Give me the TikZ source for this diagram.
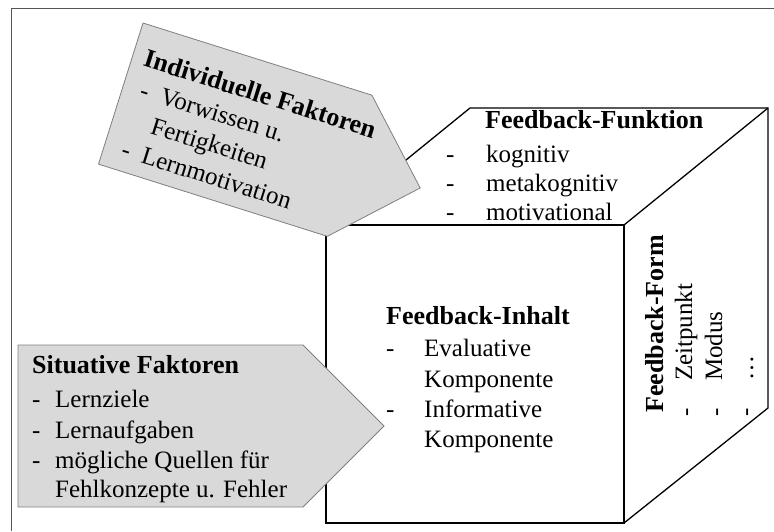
\documentclass[tikz,border=0pt]{standalone}
\usepackage{fontspec}
\setmainfont{Liberation Serif}
\definecolor{boxfill}{HTML}{D9D9D9}
\definecolor{boxline}{HTML}{7F7F7F}
\definecolor{frameline}{HTML}{555555}
\begin{document}
\begin{tikzpicture}[x=1pt,y=-1pt,
  cubeline/.style={draw=black,line width=1.3pt,line join=miter},
  factor/.style={fill=boxfill,draw=boxline,line width=0.8pt,line join=miter},
  txt/.style={inner sep=0pt,anchor=base west,font=\fontsize{25}{30}\selectfont},
  hd/.style={txt,font=\fontsize{26}{30}\selectfont\bfseries}]
\useasboundingbox (0,0) rectangle (774,531);
% outer frame (top and left edges)
\draw[frameline,line width=1pt] (11,531) -- (11,8) -- (774,8);

% cube corners
\coordinate (fa) at (326,225);
\coordinate (fb) at (624,225);
\coordinate (fc) at (624,523);
\coordinate (ba) at (470,108);
\coordinate (bb) at (768,108);
\coordinate (bc) at (768,408);
\draw[cubeline] (fa) rectangle (fc);
\draw[cubeline] (fa) -- (ba) -- (bb) -- (bc) -- (fc);
\draw[cubeline] (fb) -- (bb);

% top face: Feedback-Funktion
\node[hd] (funk) at (485,128) {Feedback-Funktion};
\node[txt] (funkd1) at (446,162) {-};
\node[txt] (funk1) at (486,162) {kognitiv};
\node[txt] (funkd2) at (446,191) {-};
\node[txt] (funk2) at (486,191) {metakognitiv};
\node[txt] (funkd3) at (446,220) {-};
\node[txt] (funk3) at (486,220) {motivational};

% front face: Feedback-Inhalt
\node[hd] (inh) at (386,324) {Feedback-Inhalt};
\node[txt] (inhd1) at (386,356) {-};
\node[txt] (inh1) at (424,356) {Evaluative};
\node[txt] (inh1b) at (424,387) {Komponente};
\node[txt] (inhd2) at (386,417) {-};
\node[txt] (inh2) at (424,417) {Informative};
\node[txt] (inh2b) at (424,447) {Komponente};

% side face: Feedback-Form (reads upwards)
\node[hd,rotate=90] (form) at (663,413) {Feedback-Form};
\node[txt,rotate=90] (formd1) at (693,417) {-};
\node[txt,rotate=90] (form1) at (692,381) {Zeitpunkt};
\node[txt,rotate=90] (formd2) at (723,417) {-};
\node[txt,rotate=90] (form2) at (722,381) {Modus};
\node[txt,rotate=90] (formd3) at (753,417) {-};
\node[txt,rotate=90] (form3) at (753,381) {\ldots};

% Individuelle Faktoren (tilted pointer)
\begin{scope}[shift={(143,23)},rotate=-17.5]
  \draw[factor] (0,0) -- (240,0) -- (314,74) -- (240,148) -- (0,148) -- cycle;
  \node[hd,transform shape] (ind) at (12,41) {Individuelle Faktoren};
  \node[txt,transform shape] (indd1) at (18,72) {-};
  \node[txt,transform shape] (ind1) at (39,72) {Vorwissen u.};
  \node[txt,transform shape] (ind1b) at (39,103) {Fertigkeiten};
  \node[txt,transform shape] (indd2) at (18,134) {-};
  \node[txt,transform shape] (ind2) at (39,134) {Lernmotivation};
\end{scope}

% Situative Faktoren (pointer)
\draw[factor] (18,345) -- (303,345) -- (384,426) -- (303,507) -- (18,507) -- cycle;
\node[hd] (sit) at (32,373) {Situative Faktoren};
\node[txt] (sitd1) at (32,407) {-};
\node[txt] (sit1) at (55,407) {Lernziele};
\node[txt] (sitd2) at (32,438) {-};
\node[txt] (sit2) at (55,438) {Lernaufgaben};
\node[txt] (sitd3) at (32,468) {-};
\node[txt] (sit3) at (55,468) {mögliche Quellen für};
\node[txt] (sit3b) at (55,497) {Fehlkonzepte u. Fehler};
\end{tikzpicture}
\end{document}
